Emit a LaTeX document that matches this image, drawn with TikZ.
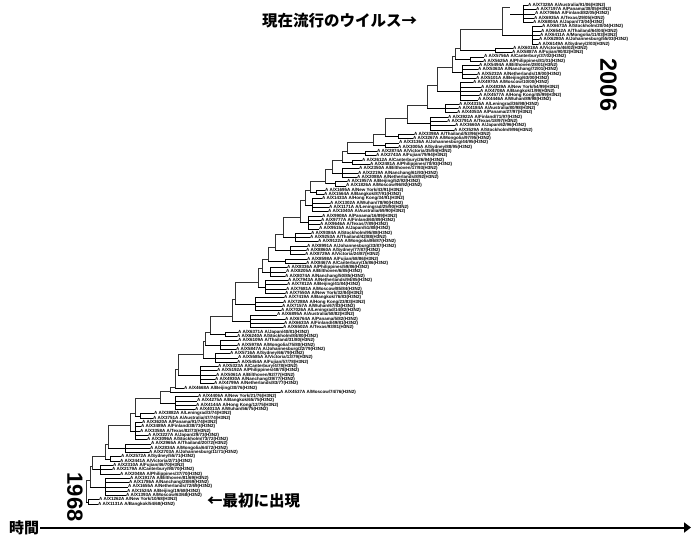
\documentclass[tikz,border=0pt]{standalone}
\usepackage{fontspec}
\setmainfont{Liberation Sans}
\newfontfamily\jp{Noto Sans CJK JP}
\usetikzlibrary{arrows.meta}
\newcount\leafk
\newcount\gcount
\def\dd{4.3}
\def\ycur{504}
\def\pbx{0}
\def\pmid{0}
\newcommand\placename[1]{\ifcase#1 Hong Kong\or Bilthoven\or Mongolia\or Australia\or Beijing\or Victoria\or Texas\or Bangkok\or Philippines\or Thailand\or Leningrad\or Netherlands\or Sydney\or Finland\or New York\or Canterbury\or Stockholm\or Wuhan\or Nanchang\or Johannesburg\or Panama\or Moscow\or Fujian\or Japan\fi}
\newcommand\leaflabel{%
  \pgfmathtruncatemacro\yr{mod(68+floor((\the\leafk-1)*38/116),100)}%
  \pgfmathtruncatemacro\pl{mod(\the\leafk*7,24)}%
  \pgfmathtruncatemacro\nm{mod(\the\leafk*53,97)+1}%
  \pgfmathtruncatemacro\acc{1000+mod(\the\leafk*131,8999)}%
  A A/X\acc A A/\placename{\pl}/\nm/\ifnum\yr<10 0\fi\yr(H3N2)}
\newcommand\grp[4]{%
  \pgfmathsetmacro\ybot{\ycur}%
  \pgfmathsetmacro\ytop{\ycur-(#1-1)*\dd}%
  \pgfmathsetmacro\ymid{(\ybot+\ytop)/2}%
  \pgfmathsetmacro\yhook{\ymid-0.3*(\ybot-\ytop)-0.8}%
  \ifnum\gcount>0
    \draw[bb] (\pbx,\pmid) -- (\pbx,\yhook) -- (#2,\yhook);
  \fi
  \draw[br] (#2,\ymid) -- (#3,\ymid);
  \draw[br] (#3,\ybot) -- (#3,\ytop);
  \foreach \i in {1,...,#1}{%
    \global\advance\leafk by 1
    \pgfmathsetmacro\yl{\ybot-(\i-1)*\dd}%
    \pgfmathtruncatemacro\jit{mod(\the\leafk*37,9)}%
    \pgfmathsetmacro\xl{#4+\jit}%
    \node[lf] (L\the\leafk) at (\xl,\yl) {\leaflabel};
    \draw[br] (#3,\yl) -- (L\the\leafk.west);
  }%
  \xdef\pbx{#2}\xdef\pmid{\ymid}%
  \pgfmathsetmacro\tmp{\ycur-#1*\dd}\xdef\ycur{\tmp}%
  \global\advance\gcount by 1
}
\begin{document}
\begin{tikzpicture}[x=1pt,y=-1pt,
  br/.style={line width=0.6pt,black},
  bb/.style={line width=0.75pt,black!80},
  lf/.style={anchor=west,inner sep=0pt,font=\fontsize{4.5}{4.5}\selectfont\bfseries},
  jpt/.style={inner sep=0pt,font=\jp\bfseries\fontsize{15.5}{16}\selectfont},
  yeart/.style={inner sep=0pt,rotate=-90,font=\bfseries}]
\useasboundingbox (0,0) rectangle (692,536);
\fill[white] (0,0) rectangle (692,536);
% tree, bottom to top: n, backbone x, cluster x, label x
\grp{2}{86}{88}{97}
\grp{5}{90}{105}{123}
\grp{3}{92}{100}{112}
\grp{2}{105}{110}{118}
\grp{3}{108}{125}{145}
\grp{5}{130}{135}{140}
\grp{2}{135}{140}{150}
\grp{4}{160}{175}{190}
\grp{1}{170}{172}{280}
\grp{1}{175}{177}{183}
\grp{5}{178}{200}{212}
\grp{3}{203}{215}{230}
\grp{3}{205}{220}{235}
\grp{2}{210}{225}{233}
\grp{4}{232}{250}{277}
\grp{4}{235}{255}{280}
\grp{4}{258}{265}{280}
\grp{3}{262}{270}{285}
\grp{2}{268}{285}{303}
\grp{3}{275}{290}{300}
\grp{3}{283}{295}{310}
\grp{4}{300}{308}{317}
\grp{4}{305}{312}{322}
\grp{2}{310}{316}{323}
\grp{2}{325}{335}{343}
\grp{3}{332}{342}{352}
\grp{2}{342}{352}{362}
\grp{2}{347}{365}{375}
\grp{2}{373}{385}{395}
\grp{2}{385}{398}{408}
\grp{4}{407}{430}{447}
\grp{3}{427}{445}{455}
\grp{5}{437}{460}{473}
\grp{4}{452}{462}{475}
\grp{2}{455}{470}{478}
\grp{2}{460}{495}{505}
\grp{5}{502}{532}{538}
\grp{5}{510}{523}{528}
% texts
\node[jpt,anchor=west] (now) at (262,21) {現在流行のウイルス→};
\node[jpt,anchor=west] (first) at (207,501) {←最初に出現};
\node[jpt,anchor=west,font=\jp\bfseries\fontsize{15}{15}\selectfont] (time) at (9,527.5) {時間};
\node[yeart,font=\bfseries\fontsize{22}{22}\selectfont] (y1968) at (75,497) {1968};
\node[yeart,font=\bfseries\fontsize{23.5}{24}\selectfont] (y2006) at (608.5,85) {2006};
\coordinate (tend) at (691,527.5);
\draw[line width=2pt,-{Triangle[length=7pt,width=10pt]}] (time.east) ++(1,0) -- (tend);
\end{tikzpicture}
\end{document}
